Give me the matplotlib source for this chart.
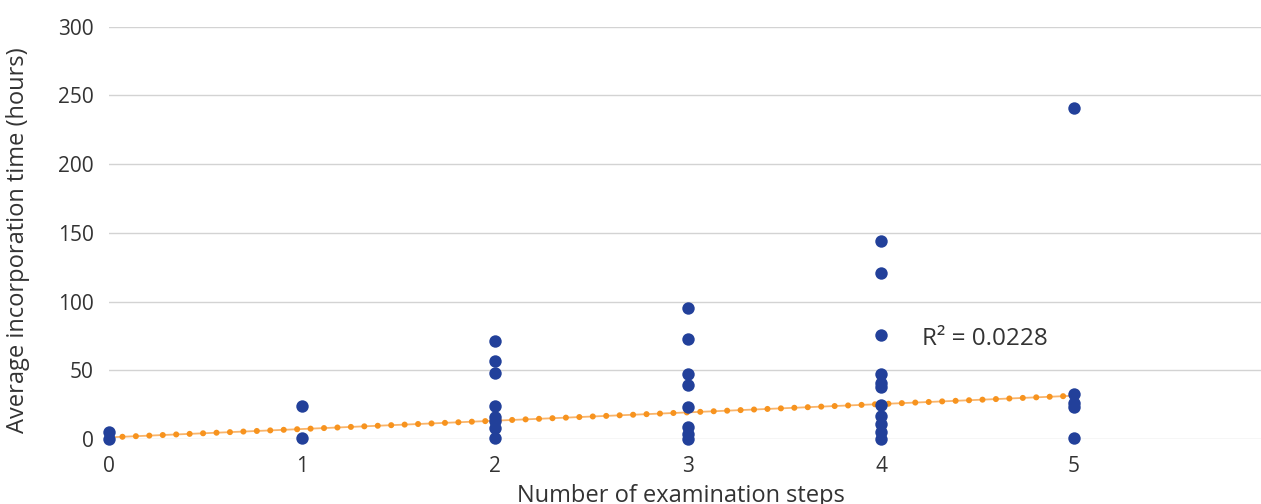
import numpy as np
import matplotlib
matplotlib.use("Agg")
import matplotlib.pyplot as plt

# data
steps = [0, 0,
         1, 1,
         2, 2, 2, 2, 2, 2, 2, 2,
         3, 3, 3, 3, 3, 3, 3, 3,
         4, 4, 4, 4, 4, 4, 4, 4, 4, 4, 4,
         5, 5, 5, 5, 5]
hours = [5, 0,
         24, 0.5,
         71, 57, 48, 24, 16, 13, 8, 0.5,
         95, 73, 47, 39, 23, 9, 4, 0,
         144, 121, 76, 47, 41, 38, 25, 17, 11, 5, 0,
         241, 33, 26, 23, 0.5]
# linear trend line as drawn in the reference (end points)
trend_x = [0, 5]
trend_y = [1.2, 31.5]
x_ticks = [0, 1, 2, 3, 4, 5, 6]
y_ticks = [0, 50, 100, 150, 200, 250, 300]
r2_label = "R² = 0.0228"

plt.rcParams['font.family'] = ['Open Sans', 'DejaVu Sans']
txt = '#333333'

fig = plt.figure(figsize=(12.61, 5.04), dpi=100)
ax = fig.add_axes([109 / 1261, 1 - 439 / 504, 1158 / 1261, 412.3 / 504])

ax.set_xlim(0, 6)
ax.set_ylim(0, 300)
ax.set_xticks(x_ticks)
ax.set_yticks(y_ticks)
ax.grid(axis='y', color='#d3d3d3', linewidth=1.0)
ax.set_axisbelow(True)
for s in ax.spines.values():
    s.set_visible(False)
ax.tick_params(length=0, labelsize=15, colors=txt)
ax.tick_params(axis='x', pad=12)
ax.tick_params(axis='y', pad=11)

# trend line: thin line with round dots on top
ax.plot(trend_x, trend_y, color='#f9b46a', lw=1.3, zorder=2, clip_on=False)
ax.plot(trend_x, trend_y, color='#f7931e', lw=4.4, zorder=2, clip_on=False,
        linestyle=(0, (0.001, 2.2)), dash_capstyle='round')

ax.scatter(steps, hours, s=80, color='#22409a', zorder=3, clip_on=False,
           linewidths=0)

ax.text(4.21, 72.5, r2_label, fontsize=17.5, color=txt, ha='left', va='center')

ax.set_xlabel("Number of examination steps", fontsize=17, color=txt)
ax.set_ylabel("Average incorporation time (hours)", fontsize=17, color=txt)
ax.xaxis.set_label_coords(0.494, -0.109)
ax.yaxis.set_label_coords(-0.068, 0.483)

fig.savefig("out.png", dpi=100)
